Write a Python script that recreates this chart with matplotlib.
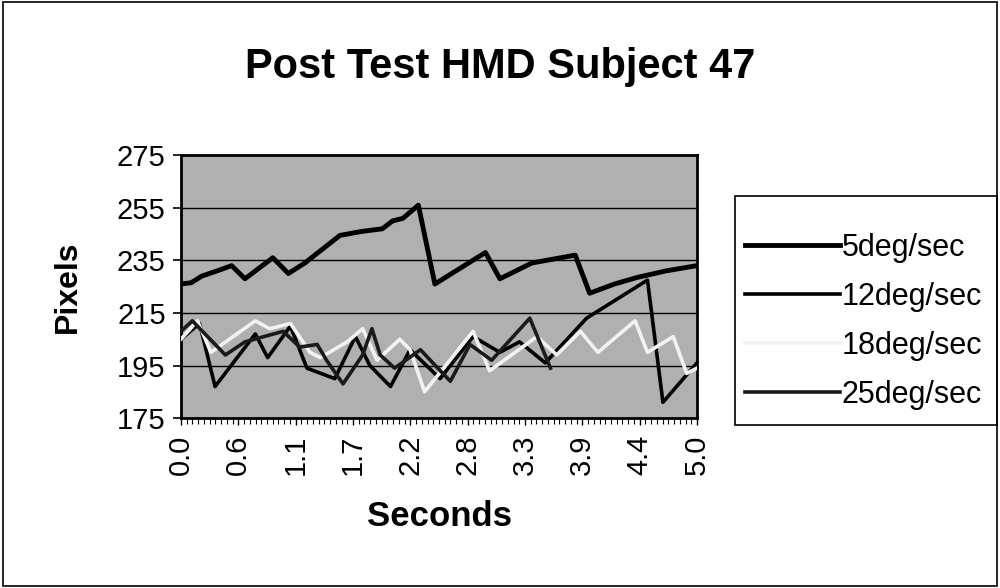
import matplotlib.pyplot as plt
import matplotlib.patches as mpatches
import numpy as np

plt.rcParams['font.family'] = ['Liberation Sans', 'DejaVu Sans']

# Data (seconds, pixels)
x_5 = [0.00, 0.10, 0.20, 0.35, 0.49, 0.62, 0.89, 1.04, 1.20, 1.54, 1.75, 1.95, 2.05, 2.15, 2.30,
       2.46, 2.95, 3.09, 3.40, 3.82, 3.96, 4.20, 4.42, 4.70, 5.00]
y_5 = [226, 226.5, 229, 231, 233, 228, 236, 230, 234, 244.5, 246, 247, 250, 251, 256,
       226, 238, 228, 234, 237, 222.5, 226, 228.5, 231, 233]

x_12 = [0.00, 0.18, 0.33, 0.72, 0.84, 1.06, 1.22, 1.49, 1.69, 1.83, 2.03, 2.22, 2.51, 2.83,
        3.09, 3.28, 3.53, 3.93, 4.52, 4.67, 5.00]
y_12 = [205, 211, 187, 207, 198, 210, 194, 190, 206, 195, 187, 201, 190, 206,
        200, 204, 196, 213, 227.5, 181, 196]

x_18 = [0.00, 0.16, 0.29, 0.72, 0.86, 1.06, 1.25, 1.35, 1.61, 1.76, 1.90, 2.12, 2.22, 2.36,
        2.83, 2.99, 3.45, 3.64, 3.87, 4.04, 4.40, 4.52, 4.77, 4.90, 5.00]
y_18 = [205, 212, 200, 212, 209, 211, 200, 198, 204, 209, 197, 205, 201, 185,
        208, 193, 206, 199, 208, 200, 212, 200, 206, 192, 194]

x_25 = [0.00, 0.11, 0.43, 0.62, 0.99, 1.15, 1.32, 1.41, 1.57, 1.76, 1.85, 1.93, 2.07, 2.32,
        2.44, 2.61, 2.80, 3.01, 3.38, 3.58]
y_25 = [208, 212, 199, 204, 208, 202, 203, 197, 188, 199, 209, 199, 194, 201,
        196, 189, 203, 197, 213, 194]

xticks = [0.0, 5/9, 10/9, 15/9, 20/9, 25/9, 30/9, 35/9, 40/9, 5.0]
xtick_labels = ['0.0', '0.6', '1.1', '1.7', '2.2', '2.8', '3.3', '3.9', '4.4', '5.0']
yticks = [175, 195, 215, 235, 255, 275]

fig = plt.figure(figsize=(10, 5.88), dpi=100)
ax = fig.add_axes([0.181, 0.289, 0.516, 0.447])
ax.set_facecolor('#b0b0b0')

ax.plot(x_5, y_5, color='black', lw=3.5, label='5deg/sec', zorder=3)
ax.plot(x_12, y_12, color='black', lw=2.6, label='12deg/sec', zorder=3)
ax.plot(x_18, y_18, color='#f2f2f2', lw=2.6, label='18deg/sec', zorder=3)
ax.plot(x_25, y_25, color='#1a1a1a', lw=2.6, label='25deg/sec', zorder=3)

ax.set_xlim(0, 5)
ax.set_ylim(175, 275)
ax.set_yticks(yticks)
ax.set_xticks(xticks)
ax.set_xticklabels(xtick_labels, rotation=90)
ax.set_xticks(np.linspace(0, 5, 91), minor=True)
ax.tick_params(axis='y', labelsize=21, length=6, width=1.2, direction='out', pad=5)
ax.tick_params(axis='x', which='major', labelsize=21, length=5, width=1, direction='out', pad=7)
ax.tick_params(axis='x', which='minor', length=4, width=0.8, direction='out')
ax.yaxis.grid(True, color='black', lw=1.0)
ax.set_axisbelow(True)
for s in ax.spines.values():
    s.set_linewidth(2)

ax.set_xlabel('Seconds', fontsize=25, fontweight='bold')
ax.xaxis.set_label_coords(0.5, -0.312)
ax.set_ylabel('Pixels', fontsize=23, fontweight='bold')
ax.yaxis.set_label_coords(-0.19, 0.5)
fig.text(0.5, 0.886, 'Post Test HMD Subject 47', ha='center', va='center',
         fontsize=30, fontweight='bold')

# legend box drawn separately so the entries can sit where the reference has them
fig.patches.append(mpatches.Rectangle((0.735, 1 - 425 / 588), 0.262, 229 / 588,
                                      transform=fig.transFigure, facecolor='white',
                                      edgecolor='black', lw=1.2, zorder=0))
leg = fig.legend(loc='upper left', bbox_to_anchor=(0.745, 1 - 233 / 588),
                 fontsize=22, frameon=False,
                 handlelength=3.1, handletextpad=0.07, labelspacing=0.62,
                 borderpad=0, borderaxespad=0)

fig.patches.append(mpatches.Rectangle((0.003, 0.003), 0.994, 0.994, transform=fig.transFigure,
                                      fill=False, edgecolor='black', lw=1.2))

fig.savefig('out.png', dpi=100)
